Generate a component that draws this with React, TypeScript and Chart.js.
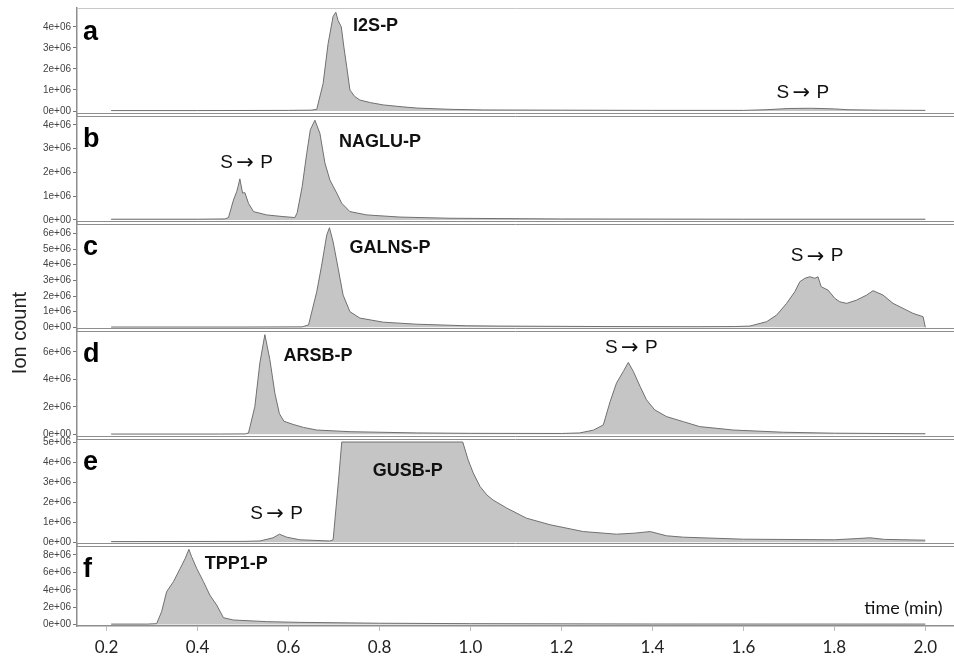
import React, { useEffect, useRef } from "react";
import { Chart, registerables } from "chart.js";
Chart.register(...registerables);

// ---- data (values in units of 1e6 ion counts, time in min) ----
const timeA = [0.21, 0.4, 0.6, 0.65, 0.662, 0.676, 0.687, 0.698, 0.704, 0.709, 0.716, 0.722, 0.728, 0.735, 0.745, 0.757, 0.78, 0.808, 0.85, 0.882, 0.955, 1.03, 1.2, 1.4, 1.6, 1.65, 1.7, 1.75, 1.8, 1.83, 1.9, 2.0];
const valA = [0.02, 0.02, 0.03, 0.04, 0.08, 1.3, 3.2, 4.5, 4.7, 4.3, 4.0, 3.0, 2.1, 1.0, 0.7, 0.52, 0.4, 0.29, 0.2, 0.14, 0.08, 0.05, 0.04, 0.03, 0.03, 0.06, 0.12, 0.13, 0.1, 0.06, 0.04, 0.03];

const timeB = [0.21, 0.4, 0.46, 0.468, 0.479, 0.486, 0.489, 0.493, 0.499, 0.504, 0.512, 0.523, 0.552, 0.588, 0.614, 0.619, 0.63, 0.64, 0.648, 0.658, 0.669, 0.68, 0.691, 0.706, 0.717, 0.735, 0.772, 0.845, 0.955, 1.2, 1.6, 2.0];
const valB = [0.03, 0.03, 0.04, 0.1, 0.84, 1.19, 1.4, 1.73, 1.13, 1.15, 0.7, 0.35, 0.21, 0.14, 0.1, 0.3, 1.4, 2.8, 3.8, 4.2, 3.65, 2.4, 1.68, 1.13, 0.7, 0.35, 0.21, 0.12, 0.07, 0.04, 0.03, 0.03];

const timeC = [0.21, 0.5, 0.63, 0.644, 0.662, 0.673, 0.684, 0.69, 0.698, 0.709, 0.72, 0.735, 0.757, 0.808, 0.882, 0.992, 1.065, 1.3, 1.5, 1.58, 1.614, 1.651, 1.673, 1.695, 1.713, 1.724, 1.735, 1.746, 1.757, 1.764, 1.771, 1.786, 1.801, 1.812, 1.827, 1.849, 1.871, 1.885, 1.907, 1.929, 1.951, 1.973, 1.995, 2.0];
const valC = [0.02, 0.02, 0.03, 0.15, 2.27, 3.98, 5.89, 6.36, 5.46, 3.78, 2.06, 1.0, 0.59, 0.33, 0.2, 0.1, 0.08, 0.05, 0.04, 0.05, 0.08, 0.36, 0.78, 1.53, 2.27, 2.91, 3.13, 3.23, 3.13, 3.23, 2.59, 2.38, 1.85, 1.63, 1.53, 1.74, 2.06, 2.34, 2.06, 1.53, 1.21, 0.89, 0.68, 0.0];

const timeD = [0.21, 0.45, 0.505, 0.512, 0.526, 0.537, 0.548, 0.559, 0.57, 0.58, 0.59, 0.61, 0.633, 0.662, 0.735, 0.882, 1.0, 1.2, 1.24, 1.27, 1.292, 1.307, 1.321, 1.336, 1.347, 1.358, 1.373, 1.387, 1.405, 1.431, 1.468, 1.504, 1.578, 1.688, 1.8, 2.0];
const valD = [0.02, 0.02, 0.03, 0.1, 2.02, 5.2, 7.26, 5.44, 3.0, 1.5, 0.95, 0.72, 0.5, 0.31, 0.19, 0.1, 0.07, 0.06, 0.1, 0.3, 0.68, 2.38, 3.73, 4.58, 5.24, 4.58, 3.48, 2.51, 1.78, 1.29, 0.92, 0.56, 0.31, 0.15, 0.08, 0.04];

const timeE = [0.21, 0.5, 0.537, 0.566, 0.58, 0.596, 0.625, 0.69, 0.698, 0.71, 0.717, 0.983, 0.995, 1.006, 1.021, 1.036, 1.05, 1.08, 1.123, 1.175, 1.248, 1.321, 1.36, 1.395, 1.431, 1.468, 1.6, 1.8, 1.85, 1.878, 1.91, 2.0];
const valE = [0.03, 0.04, 0.06, 0.22, 0.4, 0.25, 0.12, 0.06, 0.11, 3.1, 5.0, 5.0, 4.1, 3.46, 2.78, 2.36, 2.1, 1.7, 1.2, 0.87, 0.53, 0.4, 0.45, 0.53, 0.32, 0.25, 0.15, 0.12, 0.18, 0.22, 0.14, 0.1];

const timeF = [0.21, 0.29, 0.31, 0.321, 0.332, 0.347, 0.362, 0.373, 0.381, 0.387, 0.398, 0.413, 0.427, 0.442, 0.457, 0.479, 0.552, 0.625, 0.8, 1.0, 1.4, 2.0];
const valF = [0.05, 0.05, 0.1, 1.47, 3.77, 4.93, 6.47, 7.62, 8.65, 7.8, 6.47, 4.93, 3.39, 2.24, 0.78, 0.52, 0.33, 0.25, 0.15, 0.1, 0.06, 0.05];

const ticksA = [0, 1, 2, 3, 4];
const ticksB = [0, 1, 2, 3, 4];
const ticksC = [0, 1, 2, 3, 4, 5, 6];
const ticksD = [0, 2, 4, 6];
const ticksE = [0, 1, 2, 3, 4, 5];
const ticksF = [0, 2, 4, 6, 8];

const xTicks = [0.2, 0.4, 0.6, 0.8, 1.0, 1.2, 1.4, 1.6, 1.8, 2.0];

const panelLetters = ["a", "b", "c", "d", "e", "f"];

// product labels: [panel index, time, value, text]
const productLabels: [number, number, number, string][] = [
  [0, 0.742, 4.05, "I2S-P"],
  [1, 0.711, 3.28, "NAGLU-P"],
  [2, 0.734, 5.04, "GALNS-P"],
  [3, 0.589, 5.68, "ARSB-P"],
  [4, 0.785, 3.53, "GUSB-P"],
  [5, 0.416, 6.93, "TPP1-P"],
];
// substrate -> product labels: [panel index, time, value]
const spLabels: [number, number, number][] = [
  [0, 1.673, 0.86],
  [1, 0.45, 2.4],
  [2, 1.704, 4.55],
  [3, 1.296, 6.29],
  [4, 0.516, 1.42],
];

const panels = [
  { id: "ya", time: timeA, vals: valA, min: -0.19, max: 4.9, ticks: ticksA, h: 107 },
  { id: "yb", time: timeB, vals: valB, min: -0.13, max: 4.42, ticks: ticksB, h: 108 },
  { id: "yc", time: timeC, vals: valC, min: -0.17, max: 6.66, ticks: ticksC, h: 107 },
  { id: "yd", time: timeD, vals: valD, min: -0.27, max: 7.6, ticks: ticksD, h: 108 },
  { id: "ye", time: timeE, vals: valE, min: -0.14, max: 5.2, ticks: ticksE, h: 107 },
  { id: "yf", time: timeF, vals: valF, min: -0.17, max: 9.15, ticks: ticksF, h: 81 },
];

const FILL = "rgb(197,197,197)";
const LINE = "rgb(112,112,112)";
const SANS = "'Liberation Sans', Arial, sans-serif";

const decorPlugin = {
  id: "decor",
  afterDraw(chart: any) {
    const ctx = chart.ctx;
    const area = chart.chartArea;
    ctx.save();
    // top border
    ctx.strokeStyle = "#c8c8c8";
    ctx.lineWidth = 1;
    ctx.beginPath();
    ctx.moveTo(area.left, area.top + 0.5);
    ctx.lineTo(chart.width, area.top + 0.5);
    ctx.stroke();
    // panel separators (double lines)
    ctx.strokeStyle = "#8e8e8e";
    panels.slice(0, 5).forEach((p) => {
      const s = chart.scales[p.id];
      const y = Math.round(s.bottom);
      [y - 1.5, y + 1.5].forEach((yy) => {
        ctx.beginPath();
        ctx.moveTo(area.left, yy);
        ctx.lineTo(chart.width, yy);
        ctx.stroke();
      });
    });
    // panel letters
    ctx.fillStyle = "#000";
    ctx.font = `bold 27px ${SANS}`;
    ctx.textAlign = "left";
    ctx.textBaseline = "alphabetic";
    panels.forEach((p, i) => {
      const s = chart.scales[p.id];
      ctx.fillText(panelLetters[i], 83, s.top + 32);
    });
    const xs = chart.scales.x;
    // product labels
    ctx.textBaseline = "middle";
    ctx.fillStyle = "#111";
    ctx.font = `bold 18px ${SANS}`;
    productLabels.forEach(([pi, t, v, text]) => {
      const s = chart.scales[panels[pi].id];
      ctx.fillText(text, xs.getPixelForValue(t), s.getPixelForValue(v));
    });
    // S -> P labels
    spLabels.forEach(([pi, t, v]) => {
      const s = chart.scales[panels[pi].id];
      const x = xs.getPixelForValue(t);
      const y = s.getPixelForValue(v);
      ctx.font = `19px ${SANS}`;
      ctx.fillText("S", x, y);
      ctx.fillText("P", x + 40, y);
      ctx.font = `21px 'DejaVu Sans', sans-serif`;
      ctx.fillText("\u2192", x + 16, y + 1);
    });
    // x axis title
    const sf = chart.scales.yf;
    ctx.font = `18px Lato, ${SANS}`;
    ctx.textAlign = "right";
    ctx.fillStyle = "#111";
    ctx.fillText("time (min)", xs.getPixelForValue(2.038), sf.getPixelForValue(1.9));
    // y axis title
    ctx.translate(20, 333);
    ctx.rotate(-Math.PI / 2);
    ctx.textAlign = "center";
    ctx.font = `20px ${SANS}`;
    ctx.fillStyle = "#222";
    ctx.fillText("Ion count", 0, 0);
    ctx.restore();
  },
};

export default function App() {
  const ref = useRef<HTMLCanvasElement>(null);
  useEffect(() => {
    document.body.style.margin = "0";
    const datasets = panels.map((p) => ({
      type: "line" as const,
      data: p.time.map((t, i) => ({ x: t, y: p.vals[i] })),
      xAxisID: "x",
      yAxisID: p.id,
      borderColor: LINE,
      backgroundColor: FILL,
      borderWidth: 1,
      fill: "origin",
      pointRadius: 0,
      tension: 0,
    }));
    const scales: any = {
      x: {
        type: "linear",
        position: "bottom",
        min: 0.135,
        max: 2.063,
        afterBuildTicks: (s: any) => {
          s.ticks = xTicks.map((v) => ({ value: v }));
        },
        afterFit: (s: any) => {
          s.height = 39;
        },
        ticks: {
          autoSkip: false,
          callback: (v: any) => Number(v).toFixed(1),
          font: { family: "Lato, 'Liberation Sans', sans-serif", size: 17 },
          color: "#222",
          padding: 6,
          maxRotation: 0,
        },
        grid: { drawOnChartArea: false, tickLength: 5, color: "#bdbdbd" },
        border: { color: "#8e8e8e", width: 1.5 },
      },
    };
    panels.forEach((p, i) => {
      scales[p.id] = {
        type: "linear",
        position: "left",
        stack: "panels",
        stackWeight: p.h,
        weight: 10 - i,
        min: p.min,
        max: p.max,
        afterBuildTicks: (s: any) => {
          s.ticks = p.ticks.map((v) => ({ value: v }));
        },
        afterFit: (s: any) => {
          s.width = 77;
        },
        ticks: {
          autoSkip: false,
          callback: (v: any) => (v === 0 ? "0e+00" : `${v}e+06`),
          font: { family: SANS, size: 10 },
          color: "#444",
          padding: 2,
        },
        grid: { drawOnChartArea: false, tickLength: 4, color: "#777" },
        border: { color: "#8e8e8e", width: 1.5 },
      };
    });
    const chart = new Chart(ref.current as HTMLCanvasElement, {
      type: "line",
      data: { datasets: datasets as any },
      options: {
        responsive: false,
        animation: false,
        devicePixelRatio: 1,
        layout: { padding: { top: 8, left: 0, right: 0, bottom: 0 } },
        plugins: { legend: { display: false }, tooltip: { enabled: false } },
        scales,
      },
      plugins: [decorPlugin],
    });
    return () => chart.destroy();
  }, []);
  return (
    <div style={{ width: 954, height: 665, background: "#fff" }}>
      <canvas ref={ref} width={954} height={665} />
    </div>
  );
}
